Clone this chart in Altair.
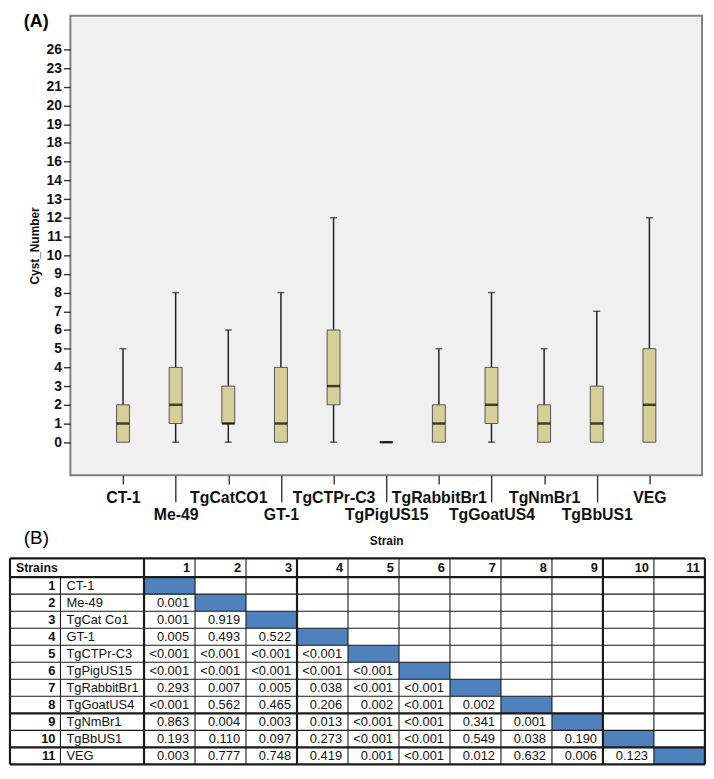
import json
import altair as alt
import pandas as pd

# ---------------- data ----------------
strains = ["CT-1", "Me-49", "TgCatCO1", "GT-1", "TgCTPr-C3", "TgPigUS15",
           "TgRabbitBr1", "TgGoatUS4", "TgNmBr1", "TgBbUS1", "VEG"]
whisker_low = [0, 0, 0, 0, 0, 0, 0, 0, 0, 0, 0]
q1 = [0, 1, 1, 0, 2, 0, 0, 1, 0, 0, 0]
median = [1, 2, 1, 1, 3, 0, 1, 2, 1, 1, 2]
q3 = [2, 4, 3, 4, 6, 0, 2, 4, 2, 3, 5]
whisker_high = [5, 8, 6, 8, 12, 0, 5, 8, 5, 7, 12]

# SPSS-style y axis: equally spaced ticks carrying these labels
y_tick_labels = ["0", "1", "2", "3", "4", "5", "6", "7", "8", "9", "10", "11",
                 "12", "13", "14", "16", "18", "19", "20", "21", "23", "26"]

table_names = ["CT-1", "Me-49", "TgCat Co1", "GT-1", "TgCTPr-C3", "TgPigUS15",
               "TgRabbitBr1", "TgGoatUS4", "TgNmBr1", "TgBbUS1", "VEG"]
p_rows = [
    [],
    ["0.001"],
    ["0.001", "0.919"],
    ["0.005", "0.493", "0.522"],
    ["<0.001", "<0.001", "<0.001", "<0.001"],
    ["<0.001", "<0.001", "<0.001", "<0.001", "<0.001"],
    ["0.293", "0.007", "0.005", "0.038", "<0.001", "<0.001"],
    ["<0.001", "0.562", "0.465", "0.206", "0.002", "<0.001", "0.002"],
    ["0.863", "0.004", "0.003", "0.013", "<0.001", "<0.001", "0.341", "0.001"],
    ["0.193", "0.110", "0.097", "0.273", "<0.001", "<0.001", "0.549", "0.038", "0.190"],
    ["0.003", "0.777", "0.748", "0.419", "0.001", "<0.001", "0.012", "0.632", "0.006", "0.123"],
]

FONT = "Liberation Sans"
LEFT_SHIFT = 61  # table starts this far left of the plot frame

# ---------------- panel A: box plot ----------------
box_df = pd.DataFrame({"strain": strains, "low": whisker_low, "q1": q1,
                       "median": median, "q3": q3, "high": whisker_high})

odd_names = strains[1::2]
odd_test = "indexof(%s, datum.value) >= 0" % json.dumps(odd_names)

x_axis = alt.Axis(
    title="Strain", labelAngle=0, labelFont=FONT, labelFontSize=16,
    labelFontWeight="bold", labelColor="#111", labelOverlap=False,
    tickSize={"condition": {"test": odd_test, "value": 27}, "value": 9},
    labelPadding={"condition": {"test": odd_test, "value": 5}, "value": 6},
    tickColor="#333", tickWidth=1.4, domain=False,
    titleFont=FONT, titleFontSize=12, titleFontWeight="bold", titleColor="#111",
    titlePadding=13,
)
label_expr = "%s[datum.value]" % json.dumps(y_tick_labels)
y_axis = alt.Axis(
    title="Cyst_Number", values=list(range(len(y_tick_labels))), labelExpr=label_expr,
    grid=False, domain=False, tickSize=7, tickColor="#333", tickWidth=1.4,
    labelPadding=2, labelFont=FONT, labelFontSize=14, labelFontWeight="bold",
    labelColor="#111", titleFont=FONT, titleFontSize=12, titleFontWeight="bold",
    titleColor="#111", titlePadding=5,
)
x_scale = alt.Scale(type="point", padding=1.11)
y_scale = alt.Scale(domain=[-1.76, 22.8], nice=False, zero=False)


def X():
    return alt.X("strain:N", sort=strains, scale=x_scale, axis=x_axis)


def Y(field):
    return alt.Y(field + ":Q", scale=y_scale, axis=y_axis)


base = alt.Chart(box_df)
whisker = base.mark_rule(color="#222", strokeWidth=1.5).encode(
    x=X(), y=Y("low"), y2="high")
cap_hi = base.mark_tick(color="#222", size=7, thickness=1.5).encode(x=X(), y=Y("high"))
cap_lo = base.transform_filter("datum.low < datum.q1").mark_tick(
    color="#222", size=7, thickness=1.5).encode(x=X(), y=Y("low"))
box = base.mark_bar(size=13, color="#d6cf98", stroke="#555", strokeWidth=1).encode(
    x=X(), y=Y("q1"), y2="q3")
med = base.mark_tick(color="#000", size=13, thickness=2.5).encode(x=X(), y=Y("median"))

panel_a = alt.layer(whisker, cap_hi, cap_lo, box, med).properties(
    width=638, height=464,
    title=alt.TitleParams("(A)", anchor="start", frame="group",
                          dx=-47, offset=-15, font=FONT, fontSize=18,
                          fontWeight="bold", color="#000"),
    view=alt.ViewBackground(fill="#f0f0f0", stroke="#808080", strokeWidth=2),
)

# ---------------- panel B: table ----------------
col_w = [51.0, 84.4] + [51.5] * 11
row_h = [19.0] + [17.2] * 11
col_e = [0.0]
for w in col_w:
    col_e.append(col_e[-1] + w)
row_e = [0.0]
for h in row_h:
    row_e.append(row_e[-1] + h)
W, H = col_e[-1], row_e[-1]

thick_h = {0, 1, 9, 11, 12}
thick_v = {0, 2, 5, 11, 13}
lines = []
for i, y in enumerate(row_e):
    lines.append({"x": 0, "x2": W, "y": y, "y2": y, "w": 2.2 if i in thick_h else 1.1})
for j, x in enumerate(col_e):
    y0 = row_e[1] if j == 1 else 0
    lines.append({"x": x, "x2": x, "y": y0, "y2": H, "w": 2.2 if j in thick_v else 1.1})
lines_df = pd.DataFrame(lines)

cells_df = pd.DataFrame([{"x": col_e[2 + i], "x2": col_e[3 + i],
                          "y": row_e[1 + i], "y2": row_e[2 + i]} for i in range(11)])


def rc(r):
    return (row_e[r] + row_e[r + 1]) / 2


hdr_left = pd.DataFrame([{"x": col_e[0] + 6, "y": rc(0), "t": "Strains"}])
bold_right = pd.DataFrame(
    [{"x": col_e[3 + j] - 5, "y": rc(0), "t": str(j + 1)} for j in range(11)] +
    [{"x": col_e[1] - 5, "y": rc(1 + i), "t": str(i + 1)} for i in range(11)])
names_df = pd.DataFrame([{"x": col_e[1] + 6, "y": rc(1 + i), "t": n}
                         for i, n in enumerate(table_names)])
vals_df = pd.DataFrame([{"x": col_e[3 + j] - 6, "y": rc(1 + i), "t": v}
                        for i, row in enumerate(p_rows) for j, v in enumerate(row)])

# the table's own pixel frame starts LEFT_SHIFT px left of the panel origin
tx = alt.Scale(domain=[LEFT_SHIFT, W], nice=False, zero=False)
ty = alt.Scale(domain=[0, H], nice=False, zero=False, reverse=True)


def TX(f="x"):
    return alt.X(f + ":Q", scale=tx, axis=None)


def TY(f="y"):
    return alt.Y(f + ":Q", scale=ty, axis=None)


cells = alt.Chart(cells_df).mark_rect(color="#4f81bd").encode(
    x=TX(), x2="x2", y=TY(), y2="y2")
rules = alt.Chart(lines_df).mark_rule(color="#1a1a1a").encode(
    x=TX(), x2="x2", y=TY(), y2="y2", strokeWidth=alt.StrokeWidth("w:Q", scale=None))
t_hdr = alt.Chart(hdr_left).mark_text(align="left", baseline="middle", font=FONT,
                                      fontSize=12.5, fontWeight="bold", color="#111").encode(
    x=TX(), y=TY(), text="t:N")
t_bold = alt.Chart(bold_right).mark_text(align="right", baseline="middle", font=FONT,
                                         fontSize=13, fontWeight="bold", color="#111").encode(
    x=TX(), y=TY(), text="t:N")
t_names = alt.Chart(names_df).mark_text(align="left", baseline="middle", font=FONT,
                                        fontSize=13, color="#111").encode(
    x=TX(), y=TY(), text="t:N")
t_vals = alt.Chart(vals_df).mark_text(align="right", baseline="middle", font=FONT,
                                      fontSize=13, color="#111").encode(
    x=TX(), y=TY(), text="t:N")

panel_b = alt.layer(cells, rules, t_hdr, t_bold, t_names, t_vals).properties(
    width=W - LEFT_SHIFT, height=H,
    title=alt.TitleParams("(B)", anchor="start", frame="group", dx=-47, offset=9,
                          font=FONT, fontSize=19, fontWeight="normal", color="#000"),
    view=alt.ViewBackground(strokeOpacity=0),
)

chart = alt.vconcat(panel_a, panel_b, spacing=-19).properties(
    padding=0, background="white")

chart.save("out.html", embed_options={"renderer": "svg", "actions": False})
